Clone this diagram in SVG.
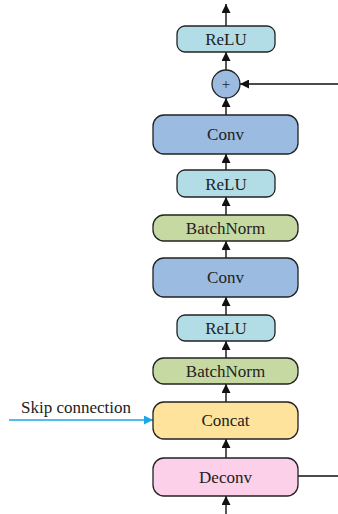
<svg xmlns="http://www.w3.org/2000/svg" width="338" height="514" viewBox="0 0 338 514">
  <style>
    .box { stroke: #222; stroke-width: 1.3; }
    .relu { fill: #b3dde6; }
    .conv { fill: #9bbbe0; }
    .bn { fill: #c6d9a2; }
    .cat { fill: #fde39b; }
    .dec { fill: #fbd0e8; }
    .lbl { font-family: "Liberation Serif", "Times New Roman", serif; font-size: 17px; fill: #222; text-anchor: middle; dominant-baseline: central; }
    .edge { stroke: #111; stroke-width: 1.4; fill: none; }
    .skip { stroke: #1ba7e6; stroke-width: 1.4; fill: none; }
  </style>
  <defs>
    <marker id="ah" viewBox="0 0 10 10" refX="10" refY="5" markerWidth="10" markerHeight="9" markerUnits="userSpaceOnUse" orient="auto">
      <path d="M0,0 L10,5 L0,10 z" fill="#111"/>
    </marker>
    <marker id="ahb" viewBox="0 0 10 10" refX="10" refY="5" markerWidth="10" markerHeight="9" markerUnits="userSpaceOnUse" orient="auto">
      <path d="M0,0 L10,5 L0,10 z" fill="#1ba7e6"/>
    </marker>
  </defs>
  <rect width="338" height="514" fill="#fff"/>

  <g id="connectors">
    <path class="edge" d="M226,26 V4" marker-end="url(#ah)"/>
    <path class="edge" d="M226,70 V52" marker-end="url(#ah)"/>
    <path class="edge" d="M338,84 H240" marker-end="url(#ah)"/>
    <path class="edge" d="M226,115 V98" marker-end="url(#ah)"/>
    <path class="edge" d="M226,170 V154" marker-end="url(#ah)"/>
    <path class="edge" d="M226,215 V197" marker-end="url(#ah)"/>
    <path class="edge" d="M226,258 V241" marker-end="url(#ah)"/>
    <path class="edge" d="M226,315 V297" marker-end="url(#ah)"/>
    <path class="edge" d="M226,358 V341" marker-end="url(#ah)"/>
    <path class="edge" d="M226,402 V384" marker-end="url(#ah)"/>
    <path class="edge" d="M226,458 V439" marker-end="url(#ah)"/>
    <path class="edge" d="M226,514 V496" marker-end="url(#ah)"/>
    <path class="edge" d="M298,476 H338"/>
    <path class="skip" d="M9,420 H153" marker-end="url(#ahb)"/>
  </g>

  <g id="relu-top">
    <rect class="box relu" x="177" y="26" width="98" height="26" rx="8"/>
    <text class="lbl" x="226" y="39.5">ReLU</text>
  </g>
  <g id="add">
    <circle class="box conv" cx="226" cy="84" r="14"/>
    <text class="lbl" x="226" y="83.5" style="font-size:15px">+</text>
  </g>
  <g id="conv-top">
    <rect class="box conv" x="153" y="115" width="145" height="39" rx="11"/>
    <text class="lbl" x="225.5" y="134.5">Conv</text>
  </g>
  <g id="relu-mid">
    <rect class="box relu" x="177" y="170" width="98" height="27" rx="8"/>
    <text class="lbl" x="226" y="184">ReLU</text>
  </g>
  <g id="bn-mid">
    <rect class="box bn" x="153" y="215" width="145" height="26" rx="11"/>
    <text class="lbl" x="225.5" y="228.5">BatchNorm</text>
  </g>
  <g id="conv-mid">
    <rect class="box conv" x="153" y="258" width="145" height="39" rx="11"/>
    <text class="lbl" x="225.5" y="277.5">Conv</text>
  </g>
  <g id="relu-low">
    <rect class="box relu" x="177" y="315" width="98" height="26" rx="8"/>
    <text class="lbl" x="226" y="328.5">ReLU</text>
  </g>
  <g id="bn-low">
    <rect class="box bn" x="153" y="358" width="145" height="26" rx="11"/>
    <text class="lbl" x="225.5" y="371.5">BatchNorm</text>
  </g>
  <g id="concat">
    <rect class="box cat" x="153" y="402" width="145" height="37" rx="11"/>
    <text class="lbl" x="225.5" y="420.5">Concat</text>
  </g>
  <g id="deconv">
    <rect class="box dec" x="153" y="458" width="145" height="38" rx="11"/>
    <text class="lbl" x="225.5" y="477">Deconv</text>
  </g>
  <g id="skip-label">
    <text class="lbl" x="76" y="407">Skip connection</text>
  </g>
</svg>
